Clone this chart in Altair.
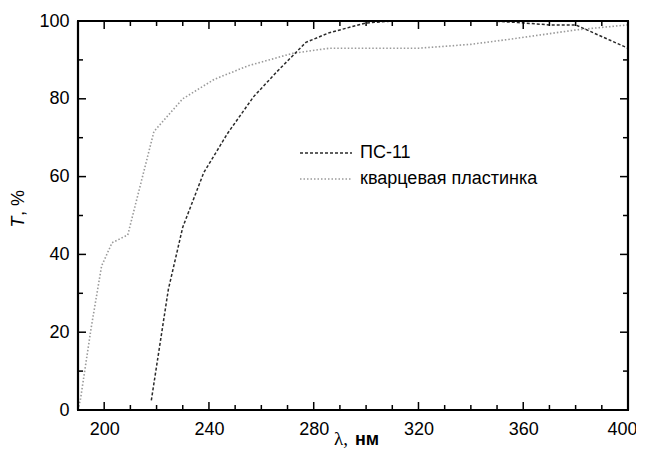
import altair as alt
import pandas as pd

# ---- data ----
ps11_wl = [218, 224.5, 230, 238, 247, 257, 266, 277, 286, 300, 310, 320, 348, 358, 370, 380, 400]
ps11_T = [2.5, 31, 47, 61, 71, 80.5, 87, 94.5, 97, 99.5, 100, 100, 100, 99.6, 99, 99, 93]

quartz_wl = [190, 191, 195, 199, 203, 209, 219, 230, 242, 255, 272, 286, 300, 320, 340, 357, 380, 400]
quartz_T = [0, 3, 21, 37, 43, 45, 71.6, 80, 85, 88.5, 91.7, 93, 93, 93, 94, 95.5, 97.7, 99]

series_names = ["ПС-11", "кварцевая пластинка"]

x_major = [200, 240, 280, 320, 360, 400]
x_minor = [190, 210, 220, 230, 250, 260, 270, 290, 300, 310, 330, 340, 350, 370, 380, 390]
y_major = [0, 20, 40, 60, 80, 100]
y_minor = [10, 30, 50, 70, 90]

x_range = [190, 400]
y_range = [0, 100]

W, H = 550, 389
FONT = "Liberation Sans"

xs = alt.Scale(domain=x_range, nice=False, zero=False)
ys = alt.Scale(domain=y_range, nice=False, zero=False)

ps_df = pd.DataFrame({"wl": ps11_wl, "T": ps11_T})
q_df = pd.DataFrame({"wl": quartz_wl, "T": quartz_T})

axis_x = alt.Axis(values=x_major, ticks=False, domain=False, grid=False, title=None,
                  labelFont=FONT, labelFontSize=18, labelColor="black", labelPadding=10,
                  labelFlush=True, labelFlushOffset=9)
axis_y = alt.Axis(values=y_major, ticks=False, domain=False, grid=False, title=None,
                  labelFont=FONT, labelFontSize=18, labelColor="black", labelPadding=9)

X = lambda f: alt.X(f, scale=xs, axis=axis_x)
Y = lambda f: alt.Y(f, scale=ys, axis=axis_y)

quartz_line = alt.Chart(q_df).mark_line(color="#9a9a9a", strokeWidth=1.6, strokeDash=[1.5, 2]).encode(
    x=X("wl:Q"), y=Y("T:Q"),
)
ps_line = alt.Chart(ps_df).mark_line(color="#2a2a2a", strokeWidth=1.5, strokeDash=[3, 2]).encode(
    x=X("wl:Q"), y=Y("T:Q"),
)

def xticks(vals, y0, y1):
    return alt.Chart(pd.DataFrame({"wl": vals})).mark_rule(color="black", strokeWidth=1.5).encode(
        x=X("wl:Q"), y=alt.value(y0), y2=alt.value(y1))

def yticks(vals, x0, x1):
    return alt.Chart(pd.DataFrame({"T": vals})).mark_rule(color="black", strokeWidth=1.5).encode(
        y=Y("T:Q"), x=alt.value(x0), x2=alt.value(x1))

ticks = [
    xticks(x_major, H, H - 8), xticks(x_minor, H, H - 5),
    xticks(x_major, 0, 8), xticks(x_minor, 0, 5),
    yticks(y_major, 0, 8), yticks(y_minor, 0, 5),
    yticks(y_major, W, W - 8), yticks(y_minor, W, W - 5),
]

# plot frame: horizontal edges at the y-range ends, vertical edges at the x-range ends
frame_h = alt.Chart(pd.DataFrame({"T": y_range, "a": [x_range[0]] * 2, "b": [x_range[1]] * 2})).mark_rule(
    color="black", strokeWidth=2.2).encode(
    y=Y("T:Q"), x=X("a:Q"), x2="b:Q")
frame_v = alt.Chart(pd.DataFrame({"wl": x_range, "a": [y_range[0]] * 2, "b": [y_range[1]] * 2})).mark_rule(
    color="black", strokeWidth=2.2).encode(
    x=X("wl:Q"), y=Y("a:Q"), y2="b:Q")

# legend
leg_ps = alt.Chart(pd.DataFrame({"n": [series_names[0]]})).mark_rule(
    color="#2a2a2a", strokeWidth=1.5, strokeDash=[3, 2]).encode(
    x=alt.value(222), x2=alt.value(274), y=alt.value(132))
leg_q = alt.Chart(pd.DataFrame({"n": [series_names[1]]})).mark_rule(
    color="#9a9a9a", strokeWidth=1.6, strokeDash=[1.5, 2]).encode(
    x=alt.value(222), x2=alt.value(274), y=alt.value(158))
leg_t1 = alt.Chart(pd.DataFrame({"n": [series_names[0]]})).mark_text(
    font=FONT, fontSize=18, align="left", baseline="middle", color="black").encode(
    text="n:N", x=alt.value(282), y=alt.value(132))
leg_t2 = alt.Chart(pd.DataFrame({"n": [series_names[1]]})).mark_text(
    font=FONT, fontSize=18, align="left", baseline="middle", color="black").encode(
    text="n:N", x=alt.value(282), y=alt.value(158))

# axis titles
yt1 = alt.Chart(pd.DataFrame({"t": ["T"]})).mark_text(
    font=FONT, fontSize=18, fontStyle="italic", angle=270, align="center", baseline="middle",
    color="black").encode(text="t:N", x=alt.value(-59), y=alt.value(201))
yt2 = alt.Chart(pd.DataFrame({"t": [", %"]})).mark_text(
    font=FONT, fontSize=18, angle=270, align="left", baseline="middle",
    color="black").encode(text="t:N", x=alt.value(-59), y=alt.value(195))
xt1 = alt.Chart(pd.DataFrame({"t": ["λ,"]})).mark_text(
    font="Liberation Serif", fontSize=19, align="left", baseline="alphabetic",
    color="black").encode(text="t:N", x=alt.value(256), y=alt.value(424))
xt2 = alt.Chart(pd.DataFrame({"t": ["нм"]})).mark_text(
    font=FONT, fontSize=18, fontWeight="bold", align="left", baseline="alphabetic",
    color="black").encode(text="t:N", x=alt.value(277), y=alt.value(424))

chart = alt.layer(
    quartz_line, ps_line, frame_h, frame_v, *ticks, leg_ps, leg_q, leg_t1, leg_t2, yt1, yt2, xt1, xt2
).properties(
    width=W, height=H,
    autosize=alt.AutoSizeParams(type="none"),
    padding={"left": 70, "top": 13, "right": 8, "bottom": 40},
).configure(
    background="white",
    view=alt.ViewConfig(stroke="black", strokeWidth=2),
)

chart.save("out.html", embed_options={"renderer": "svg", "actions": False})
